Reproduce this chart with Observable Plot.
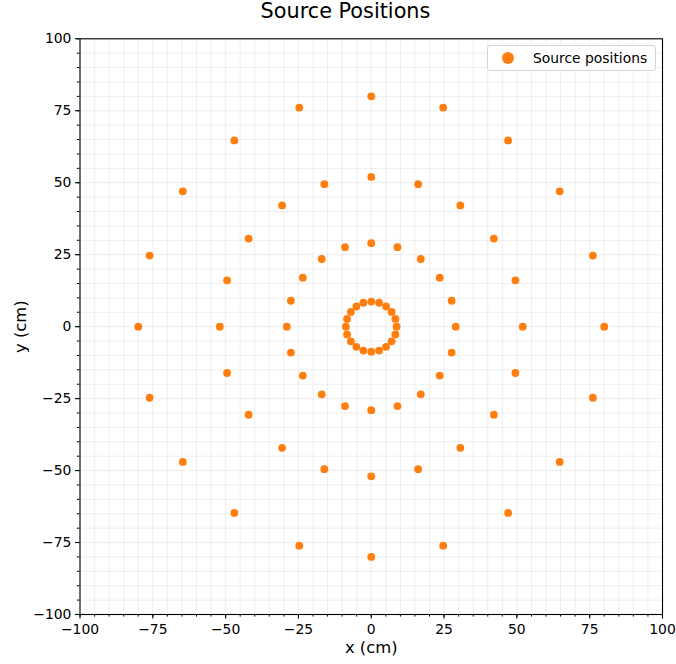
<!DOCTYPE html>
<html>
<head>
<meta charset="utf-8">
<script src="https://cdn.jsdelivr.net/npm/d3@7"></script>
<script src="https://cdn.jsdelivr.net/npm/@observablehq/plot@0.6"></script>
<style>
  html, body { margin: 0; padding: 0; background: white; }
  #chart { position: relative; width: 676px; height: 664px; font-family: "DejaVu Sans", sans-serif; }
  #legend {
    position: absolute; left: 487px; top: 45px; width: 167px; height: 24px;
    border: 1px solid #d4d4d4; border-radius: 3px; background: rgba(255,255,255,0.85);
    display: flex; align-items: center; font-size: 13.9px; color: #000;
  }
  #legend .swatch { width: 12.4px; height: 12.4px; border-radius: 50%; background: #ff7f0e; margin-left: 14px; margin-right: 18.5px; }
</style>
</head>
<body>
<div id="chart">
  <div id="legend"><span class="swatch"></span><span>Source positions</span></div>
</div>
<script>
// Source rings (cm), 20 sources per ring
const ring1X = [8.7, 8.3, 7.0, 5.1, 2.7, 0, -2.7, -5.1, -7.0, -8.3, -8.7, -8.3, -7.0, -5.1, -2.7, 0, 2.7, 5.1, 7.0, 8.3];
const ring1Y = [0, 2.7, 5.1, 7.0, 8.3, 8.7, 8.3, 7.0, 5.1, 2.7, 0, -2.7, -5.1, -7.0, -8.3, -8.7, -8.3, -7.0, -5.1, -2.7];

const ring2X = [29, 27.6, 23.5, 17.0, 9.0, 0, -9.0, -17.0, -23.5, -27.6, -29, -27.6, -23.5, -17.0, -9.0, 0, 9.0, 17.0, 23.5, 27.6];
const ring2Y = [0, 9.0, 17.0, 23.5, 27.6, 29, 27.6, 23.5, 17.0, 9.0, 0, -9.0, -17.0, -23.5, -27.6, -29, -27.6, -23.5, -17.0, -9.0];

const ring3X = [52, 49.5, 42.1, 30.6, 16.1, 0, -16.1, -30.6, -42.1, -49.5, -52, -49.5, -42.1, -30.6, -16.1, 0, 16.1, 30.6, 42.1, 49.5];
const ring3Y = [0, 16.1, 30.6, 42.1, 49.5, 52, 49.5, 42.1, 30.6, 16.1, 0, -16.1, -30.6, -42.1, -49.5, -52, -49.5, -42.1, -30.6, -16.1];

const ring4X = [80, 76.1, 64.7, 47.0, 24.7, 0, -24.7, -47.0, -64.7, -76.1, -80, -76.1, -64.7, -47.0, -24.7, 0, 24.7, 47.0, 64.7, 76.1];
const ring4Y = [0, 24.7, 47.0, 64.7, 76.1, 80, 76.1, 64.7, 47.0, 24.7, 0, -24.7, -47.0, -64.7, -76.1, -80, -76.1, -64.7, -47.0, -24.7];

const majorTicks = [-100, -75, -50, -25, 0, 25, 50, 75, 100];
const minorTicks = d3.range(-100, 101, 5);

const titleText = "Source Positions";
const xLabel = "x (cm)";
const yLabel = "y (cm)";

const rings = [[ring1X, ring1Y], [ring2X, ring2Y], [ring3X, ring3Y], [ring4X, ring4Y]];
const sources = rings.flatMap(([xs, ys]) => xs.map((x, i) => ({x, y: ys[i]})));

const fmt = d3.format("d");

const chart = Plot.plot({
  width: 676,
  height: 664,
  marginLeft: 79.5,
  marginRight: 14,
  marginTop: 38.3,
  marginBottom: 50,
  style: {fontFamily: "DejaVu Sans", fontSize: "13.9px", color: "black", background: "white", overflow: "visible"},
  x: {domain: [-100, 100]},
  y: {domain: [-100, 100]},
  marks: [
    // light grid every 5 cm
    Plot.gridX(minorTicks, {stroke: "#000", strokeOpacity: 0.065}),
    Plot.gridY(minorTicks, {stroke: "#000", strokeOpacity: 0.065}),
    Plot.dot(sources, {x: "x", y: "y", r: 3.9, fill: "#ff7f0e", stroke: "none"}),
    Plot.frame({stroke: "black", strokeWidth: 1.1}),
    Plot.axisX(minorTicks, {anchor: "bottom", tickSize: 2.6, tickFormat: () => "", label: null, strokeWidth: 1}),
    Plot.axisY(minorTicks, {anchor: "left", tickSize: 2.6, tickFormat: () => "", label: null, strokeWidth: 1}),
    Plot.axisX(majorTicks, {anchor: "bottom", tickSize: 4.6, tickPadding: 4.6, tickFormat: fmt, label: null, fontSize: 13.9, strokeWidth: 1.1}),
    Plot.axisY(majorTicks, {anchor: "left", tickSize: 4.6, tickPadding: 4, tickFormat: fmt, label: null, fontSize: 13.9, strokeWidth: 1.1}),
    Plot.text([xLabel], {text: d => d, frameAnchor: "bottom", lineAnchor: "middle", textAnchor: "middle", dy: 33.5, fontSize: 16.4}),
    Plot.text([yLabel], {text: d => d, frameAnchor: "left", lineAnchor: "middle", textAnchor: "middle", dx: -59.5, rotate: -90, fontSize: 16.4}),
    Plot.text([titleText], {text: d => d, frameAnchor: "top", lineAnchor: "middle", textAnchor: "middle", dx: -25.8, dy: -27.5, fontSize: 20.8})
  ]
});

document.getElementById("chart").prepend(chart);
</script>
</body>
</html>
